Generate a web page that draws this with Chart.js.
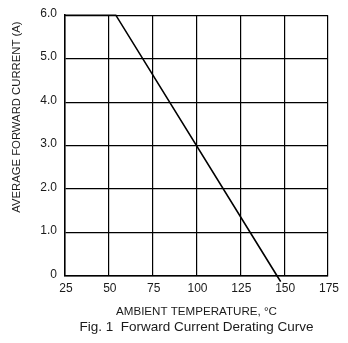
<!DOCTYPE html>
<html>
<head>
<meta charset="utf-8">
<script src="https://cdn.jsdelivr.net/npm/chart.js@4/dist/chart.umd.min.js"></script>
<style>
  html, body { margin: 0; padding: 0; background: #fff; }
  #wrap { width: 348px; height: 343px; }
</style>
</head>
<body>
<div id="wrap"><canvas id="myChart" width="348" height="343"></canvas></div>
<script>
// derating curve
const temps = [25, 54, 146, 148];
const current = [6.0, 6.0, 0, -0.13];
const xTicks = [25, 50, 75, 100, 125, 150, 175];
const yTicks = [0, 1, 2, 3, 4, 5, 6];

const points = temps.map((t, i) => ({ x: t, y: current[i] }));
const family = "'Liberation Sans', Arial, sans-serif";
const ink = "#1a1a1a";

new Chart(document.getElementById("myChart").getContext("2d"), {
    type: "scatter",
    data: {
        datasets: [{
            data: points,
            showLine: true,
            borderColor: "#000",
            borderWidth: 1.6,
            pointRadius: 0,
            clip: false
        }]
    },
    options: {
        responsive: false,
        animation: false,
        layout: { padding: { left: 0, right: 20, top: 12, bottom: 0 } },
        plugins: {
            legend: { display: false },
            tooltip: { enabled: false },
            title: {
                display: true,
                position: "bottom",
                fullSize: false,
                text: "Fig. 1  Forward Current Derating Curve",
                color: ink,
                font: { family: family, size: 13.5, weight: "normal", lineHeight: 1.2 },
                padding: { top: 0, bottom: 8 }
            }
        },
        scales: {
            x: {
                type: "linear",
                min: xTicks[0],
                max: xTicks[xTicks.length - 1],
                afterBuildTicks: s => { s.ticks = xTicks.map(v => ({ value: v })); },
                afterFit: s => { s.height = 42.8; },
                grid: { color: "#000", lineWidth: 1.2, drawTicks: false },
                border: { color: "#000", width: 1.5 },
                ticks: { color: ink, font: { family: family, size: 12 }, padding: 5, maxRotation: 0, labelOffset: 1 },
                title: {
                    display: true,
                    text: "AMBIENT TEMPERATURE, °C",
                    color: ink,
                    font: { family: family, size: 11.6, lineHeight: 1.2 },
                    padding: { top: 0, bottom: 0 }
                }
            },
            y: {
                min: yTicks[0],
                max: yTicks[yTicks.length - 1],
                afterBuildTicks: s => { s.ticks = yTicks.map(v => ({ value: v })); },
                afterFit: s => { s.width = 65; },
                grid: { color: "#000", lineWidth: 1.2, drawTicks: false },
                border: { color: "#000", width: 1.5 },
                ticks: {
                    color: ink,
                    font: { family: family, size: 12 },
                    padding: 8,
                    labelOffset: -1.5,
                    callback: v => v === 0 ? "0" : v.toFixed(1)
                },
                title: {
                    display: true,
                    text: "AVERAGE FORWARD CURRENT (A)  ",
                    align: "end",
                    color: ink,
                    font: { family: family, size: 11.3, lineHeight: 1.25 },
                    padding: { top: 9.5, bottom: 0 }
                }
            }
        }
    }
});
</script>
</body>
</html>
